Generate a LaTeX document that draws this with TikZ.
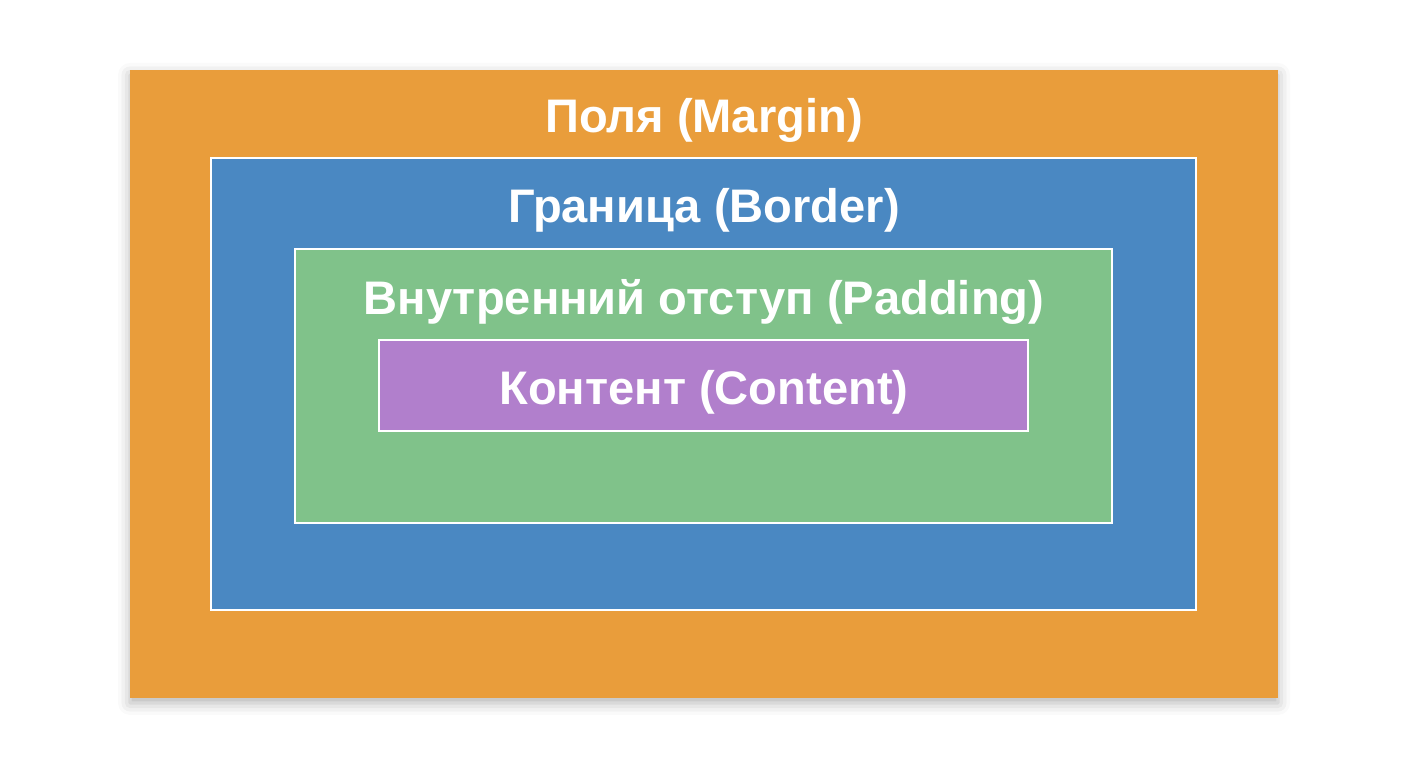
\documentclass[tikz,border=0pt]{standalone}
\usepackage{fontspec}
\setmainfont{Liberation Sans}
\usetikzlibrary{positioning,shadows.blur}
\definecolor{margincol}{HTML}{E99D3B}
\definecolor{bordercol}{HTML}{4A88C2}
\definecolor{paddingcol}{HTML}{80C28A}
\definecolor{contentcol}{HTML}{B17FCC}
\tikzset{
  layer/.style={draw=white,line width=0.7pt,inner sep=0pt},
  title/.style={text=white,font=\fontsize{13.4}{16}\selectfont\bfseries,inner sep=0pt}
}
\begin{document}
\begin{tikzpicture}
\useasboundingbox (0,0) rectangle (14.08,7.68);
% boxes
\node[fill=margincol,inner sep=0pt,minimum width=11.48cm,minimum height=6.28cm,
  blur shadow={shadow xshift=0pt,shadow yshift=-0.05cm,shadow blur radius=0.12cm,shadow opacity=30}] (margin) at (7.04,3.84) {};
\node[layer,fill=bordercol,minimum width=9.85cm,minimum height=4.52cm] (border) at (7.035,3.84) {};
\node[layer,fill=paddingcol,minimum width=8.17cm,minimum height=2.74cm] (padding) at (7.035,3.82) {};
\node[layer,fill=contentcol,minimum width=6.49cm,minimum height=0.91cm] (content) at (7.035,3.825) {};
% labels
\node[title] (margintxt) at (7.04,6.48) {Поля (Margin)};
\node[title] (bordertxt) at (7.04,5.58) {Граница (Border)};
\node[title] (paddingtxt) at (7.04,4.66) {Внутренний отступ (Padding)};
\node[title] (contenttxt) at (7.04,3.76) {Контент (Content)};
\end{tikzpicture}
\end{document}
